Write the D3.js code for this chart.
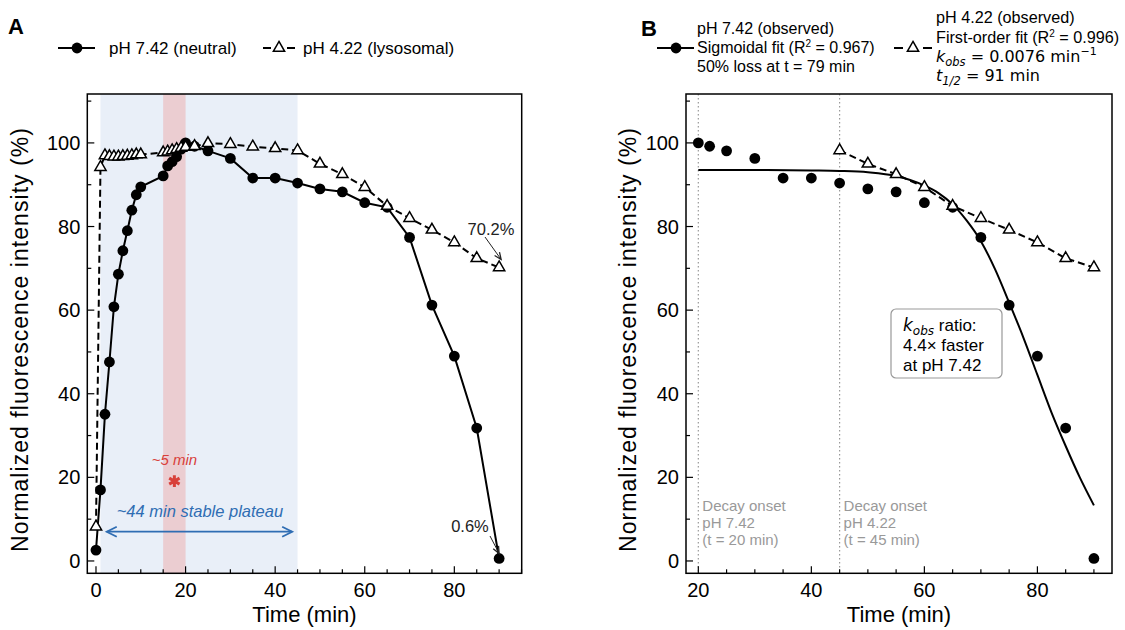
<!DOCTYPE html>
<html><head><meta charset="utf-8">
<script src="https://cdn.jsdelivr.net/npm/d3@7"></script>
<style>body{margin:0;background:#fff} svg{display:block}</style>
</head><body>
<svg id="c" width="1125" height="630"></svg>
<script>
// ---------- data ----------
const timeNeutral = [0,1,2,3,4,5,6,7,8,9,10,15,16,17,18,19,20,22,25,30,35,40,45,50,55,60,65,70,75,80,85,90];
const valNeutral  = [2.6,17.0,35.1,47.6,60.8,68.6,74.2,79.0,83.9,87.6,89.5,92.1,94.5,95.5,96.7,98.5,100,99.2,98.1,96.3,91.6,91.6,90.4,89.0,88.3,85.7,84.6,77.4,61.2,49.0,31.8,0.6];
const timeLyso = [0,1,2,3,4,5,6,7,8,9,10,15,16,17,18,19,20,22,25,30,35,40,45,50,55,60,65,70,75,80,85,90];
const valLyso  = [8.2,94.2,97.0,96.8,96.7,96.7,96.8,96.9,97.0,97.2,97.2,97.7,97.9,98.2,98.5,98.8,99.0,99.2,99.9,99.7,99.1,98.7,98.2,95.0,92.5,89.4,84.9,82.0,79.2,76.2,72.4,70.2];
// sigmoidal fit curve (pH 7.42)
const fitTime = [20,30,40,45,50,55,60,62.5,65,67.5,70,72.5,75,77.5,80,82.5,85,87.5,90];
const fitVal  = [93.5,93.5,93.4,93.3,93.0,92.1,89.8,88.0,85.3,81.4,76.5,69.8,61.8,53.5,44.5,35.5,27.5,20.0,13.3];
const xTicksA = [0,20,40,60,80];
const xTicksB = [20,40,60,80];
const yTicks = [0,20,40,60,80,100];
const plateauRange = [1,45];
const transitionRange = [15,20];
const decayOnsets = [{t:20, ph:"pH 7.42"},{t:45, ph:"pH 4.22"}];

// ---------- setup ----------
const svg = d3.select("#c");
const FONT = "'Liberation Sans', Arial, sans-serif";
const MATH = "'DejaVu Sans', sans-serif";
const frameTop = 94, frameBot = 573.3;
const yDomain = [-2.95, 111.7];

function drawAxes(g, x, y, xTicks) {
  const [x0, x1] = x.range();
  const xd = x.domain();
  for (let t = Math.ceil(xd[0]/5)*5; t <= xd[1]; t += 5) {
    const major = xTicks.includes(t);
    g.append("line").attr("x1", x(t)).attr("x2", x(t))
      .attr("y1", frameBot).attr("y2", frameBot - (major ? 7 : 4))
      .attr("stroke", "#000").attr("stroke-width", 1.2);
  }
  xTicks.forEach(t => {
    g.append("text").attr("x", x(t)).attr("y", frameBot + 24)
      .attr("text-anchor", "middle").attr("font-family", FONT).attr("font-size", 20).text(t);
  });
  for (let v = 0; v <= 110; v += 10) {
    const major = v % 20 === 0;
    g.append("line").attr("x1", x0).attr("x2", x0 + (major ? 7 : 4))
      .attr("y1", y(v)).attr("y2", y(v)).attr("stroke", "#000").attr("stroke-width", 1.2);
  }
  yTicks.forEach(v => {
    g.append("text").attr("x", x0 - 7).attr("y", y(v)).attr("dy", "0.35em")
      .attr("text-anchor", "end").attr("font-family", FONT).attr("font-size", 20).text(v);
  });
  g.append("rect").attr("x", x0).attr("y", frameTop).attr("width", x1 - x0).attr("height", frameBot - frameTop)
    .attr("fill", "none").attr("stroke", "#000").attr("stroke-width", 1.5);
  g.append("text").attr("x", (x0 + x1)/2).attr("y", 622).attr("text-anchor", "middle")
    .attr("font-family", FONT).attr("font-size", 22).text("Time (min)");
}

function yLabel(cx) {
  svg.append("text").attr("transform", `translate(${cx},340) rotate(-90)`)
    .attr("text-anchor", "middle").attr("dy", "0.35em").attr("font-family", FONT).attr("font-size", 23)
    .attr("textLength", 424).attr("lengthAdjust", "spacing")
    .text("Normalized fluorescence intensity (%)");
}

const tri = d3.symbol().type(d3.symbolTriangle).size(55);

function circles(g, x, y, ts, vs) {
  g.selectAll(null).data(ts.map((t,i)=>[t,vs[i]])).join("circle")
    .attr("cx", d=>x(d[0])).attr("cy", d=>y(d[1])).attr("r", 5.4).attr("fill", "#000");
}
function triangles(g, x, y, ts, vs) {
  g.selectAll(null).data(ts.map((t,i)=>[t,vs[i]])).join("path")
    .attr("d", tri).attr("transform", d=>`translate(${x(d[0])},${y(d[1])})`)
    .attr("fill", "#fff").attr("stroke", "#000").attr("stroke-width", 1.5);
}

function arrowHead(g, x1, y1, x2, y2, color, len, w, sw) {
  const a = Math.atan2(y2 - y1, x2 - x1);
  const p1 = [x2 - len*Math.cos(a) + w*Math.sin(a), y2 - len*Math.sin(a) - w*Math.cos(a)];
  const p2 = [x2 - len*Math.cos(a) - w*Math.sin(a), y2 - len*Math.sin(a) + w*Math.cos(a)];
  g.append("path").attr("d", `M${p1}L${x2},${y2}L${p2}`).attr("fill", "none")
    .attr("stroke", color).attr("stroke-width", sw || 1.3);
}

// ---------- Panel A ----------
{
  const x = d3.scaleLinear().domain([-1.94, 95.04]).range([87.3, 521.7]);
  const y = d3.scaleLinear().domain(yDomain).range([frameBot, frameTop]);
  const g = svg.append("g");
  g.append("rect").attr("x", x(plateauRange[0])).attr("y", frameTop)
    .attr("width", x(plateauRange[1]) - x(plateauRange[0])).attr("height", frameBot - frameTop).attr("fill", "#e9eff8");
  g.append("rect").attr("x", x(transitionRange[0])).attr("y", frameTop)
    .attr("width", x(transitionRange[1]) - x(transitionRange[0])).attr("height", frameBot - frameTop).attr("fill", "#ebcdd1");

  const line = d3.line().x(d=>x(d[0])).y(d=>y(d[1]));
  g.append("path").attr("d", line(timeLyso.map((t,i)=>[t,valLyso[i]])))
    .attr("fill", "none").attr("stroke", "#000").attr("stroke-width", 2).attr("stroke-dasharray", "7,4");
  g.append("path").attr("d", line(timeNeutral.map((t,i)=>[t,valNeutral[i]])))
    .attr("fill", "none").attr("stroke", "#000").attr("stroke-width", 2);
  circles(g, x, y, timeNeutral, valNeutral);
  triangles(g, x, y, timeLyso, valLyso);

  // annotations
  const red = "#d8403a", blue = "#2f6db3";
  g.append("path").attr("d", d3.symbol().type(d3.symbolAsterisk).size(100)())
    .attr("transform", `translate(${x(17.5)},${y(19.1)})`).attr("stroke", red).attr("stroke-width", 3).attr("fill", "none");
  g.append("text").attr("x", x(17.5)).attr("y", y(24.3)).attr("dy", "0.35em").attr("text-anchor", "middle")
    .attr("font-family", FONT).attr("font-style", "italic").attr("font-size", 15).attr("fill", red).text("~5 min");
  const ay = y(7), ax1 = x(2.4), ax2 = x(43.8);
  g.append("line").attr("x1", ax1).attr("x2", ax2).attr("y1", ay).attr("y2", ay).attr("stroke", blue).attr("stroke-width", 1.8);
  arrowHead(g, ax2, ay, ax1, ay, blue, 10, 5, 1.8);
  arrowHead(g, ax1, ay, ax2, ay, blue, 10, 5, 1.8);
  g.append("text").attr("x", x(23.2)).attr("y", y(11.9)).attr("dy", "0.35em").attr("text-anchor", "middle")
    .attr("font-family", FONT).attr("font-style", "italic").attr("font-size", 16.5).attr("fill", blue).text("~44 min stable plateau");

  const last = valLyso.length - 1;
  g.append("text").attr("x", 491).attr("y", 229).attr("dy", "0.35em").attr("text-anchor", "middle")
    .attr("font-family", FONT).attr("font-size", 16.5).attr("fill", "#222").text(valLyso[last].toFixed(1) + "%");
  g.append("line").attr("x1", 485).attr("y1", 237).attr("x2", x(90) + 2).attr("y2", y(valLyso[last]) - 8)
    .attr("stroke", "#222").attr("stroke-width", 1);
  arrowHead(g, 485, 237, x(90) + 2, y(valLyso[last]) - 8, "#222", 7, 3);
  const lastN = valNeutral.length - 1;
  g.append("text").attr("x", 470).attr("y", 526).attr("dy", "0.35em").attr("text-anchor", "middle")
    .attr("font-family", FONT).attr("font-size", 16.5).attr("fill", "#222").text(valNeutral[lastN] + "%");
  g.append("line").attr("x1", 490).attr("y1", 536).attr("x2", x(90)).attr("y2", y(valNeutral[lastN]) - 5)
    .attr("stroke", "#222").attr("stroke-width", 1);
  arrowHead(g, 490, 536, x(90), y(valNeutral[lastN]) - 5, "#222", 7, 3);

  drawAxes(g, x, y, xTicksA);
  yLabel(20);

  // legend
  svg.append("text").attr("x", 8).attr("y", 34).attr("font-family", FONT).attr("font-weight", "bold").attr("font-size", 22).text("A");
  svg.append("line").attr("x1", 58).attr("x2", 95).attr("y1", 48).attr("y2", 48).attr("stroke", "#000").attr("stroke-width", 2);
  svg.append("circle").attr("cx", 77).attr("cy", 48).attr("r", 5.4);
  svg.append("text").attr("x", 109).attr("y", 54).attr("font-family", FONT).attr("font-size", 17).text("pH 7.42 (neutral)");
  svg.append("line").attr("x1", 263).attr("x2", 271).attr("y1", 48).attr("y2", 48).attr("stroke", "#000").attr("stroke-width", 2);
  svg.append("line").attr("x1", 287).attr("x2", 295).attr("y1", 48).attr("y2", 48).attr("stroke", "#000").attr("stroke-width", 2);
  svg.append("path").attr("d", tri).attr("transform", "translate(279,48)").attr("fill", "#fff").attr("stroke", "#000").attr("stroke-width", 1.5);
  svg.append("text").attr("x", 303).attr("y", 54).attr("font-family", FONT).attr("font-size", 17).text("pH 4.22 (lysosomal)");
}

// ---------- Panel B ----------
{
  const x = d3.scaleLinear().domain([17.82, 93.2]).range([686, 1112]);
  const y = d3.scaleLinear().domain(yDomain).range([frameBot, frameTop]);
  const g = svg.append("g");
  decayOnsets.forEach(d => {
    g.append("line").attr("x1", x(d.t)).attr("x2", x(d.t)).attr("y1", frameTop).attr("y2", frameBot)
      .attr("stroke", "#999").attr("stroke-width", 1.2).attr("stroke-dasharray", "1.5,2.5");
    const tx = g.append("text").attr("x", x(d.t) + 4).attr("font-family", FONT).attr("font-size", 15).attr("fill", "#999");
    ["Decay onset", d.ph, `(t = ${d.t} min)`].forEach((s, i) => tx.append("tspan").attr("x", x(d.t) + 4).attr("y", 511 + i*17).text(s));
  });
  const line = d3.line().x(d=>x(d[0])).y(d=>y(d[1]));
  const nB = timeNeutral.map((t,i)=>[t,valNeutral[i]]).filter(d=>d[0]>=20);
  const lB = timeLyso.map((t,i)=>[t,valLyso[i]]).filter(d=>d[0]>=45);
  g.append("path").attr("d", d3.line().x(d=>x(d[0])).y(d=>y(d[1])).curve(d3.curveMonotoneX)(fitTime.map((t,i)=>[t,fitVal[i]])))
    .attr("fill", "none").attr("stroke", "#000").attr("stroke-width", 2);
  g.append("path").attr("d", line(lB)).attr("fill", "none").attr("stroke", "#000").attr("stroke-width", 2).attr("stroke-dasharray", "7,4");
  circles(g, x, y, nB.map(d=>d[0]), nB.map(d=>d[1]));
  triangles(g, x, y, lB.map(d=>d[0]), lB.map(d=>d[1]));

  // ratio box
  g.append("rect").attr("x", 891).attr("y", 309).attr("width", 111).attr("height", 69).attr("rx", 5)
    .attr("fill", "#fff").attr("stroke", "#999").attr("stroke-width", 1.2);
  const t1 = g.append("text").attr("x", 903).attr("y", 331).attr("font-family", FONT).attr("font-size", 17);
  t1.append("tspan").attr("font-family", MATH).attr("font-style", "italic").text("k");
  t1.append("tspan").attr("font-family", MATH).attr("font-style", "italic").attr("font-size", 12).attr("dy", 4).text("obs");
  t1.append("tspan").attr("dy", -4).text(" ratio:");
  g.append("text").attr("x", 903).attr("y", 351).attr("font-family", FONT).attr("font-size", 17).text("4.4× faster");
  g.append("text").attr("x", 903).attr("y", 371).attr("font-family", FONT).attr("font-size", 17).text("at pH 7.42");

  drawAxes(g, x, y, xTicksB);
  yLabel(628);

  // legend
  svg.append("text").attr("x", 641).attr("y", 36).attr("font-family", FONT).attr("font-weight", "bold").attr("font-size", 22).text("B");
  svg.append("line").attr("x1", 657).attr("x2", 694).attr("y1", 48).attr("y2", 48).attr("stroke", "#000").attr("stroke-width", 2);
  svg.append("circle").attr("cx", 676).attr("cy", 48).attr("r", 5.4);
  const L = svg.append("text").attr("font-family", FONT).attr("font-size", 16);
  L.append("tspan").attr("x", 697).attr("y", 34).text("pH 7.42 (observed)");
  const l2 = L.append("tspan").attr("x", 697).attr("y", 53);
  l2.append("tspan").text("Sigmoidal fit (R");
  l2.append("tspan").attr("font-size", 10).attr("dy", -6).text("2");
  l2.append("tspan").attr("dy", 6).text(" = 0.967)");
  L.append("tspan").attr("x", 697).attr("y", 72).text("50% loss at t = 79 min");

  svg.append("line").attr("x1", 894).attr("x2", 903).attr("y1", 48).attr("y2", 48).attr("stroke", "#000").attr("stroke-width", 2);
  svg.append("line").attr("x1", 923).attr("x2", 932).attr("y1", 48).attr("y2", 48).attr("stroke", "#000").attr("stroke-width", 2);
  svg.append("path").attr("d", tri).attr("transform", "translate(913,48)").attr("fill", "#fff").attr("stroke", "#000").attr("stroke-width", 1.5);
  const R = svg.append("text").attr("font-family", FONT).attr("font-size", 16.2);
  R.append("tspan").attr("x", 936).attr("y", 23).text("pH 4.22 (observed)");
  const r2 = R.append("tspan").attr("x", 936).attr("y", 43);
  r2.append("tspan").text("First-order fit (R");
  r2.append("tspan").attr("font-size", 10).attr("dy", -6).text("2");
  r2.append("tspan").attr("dy", 6).text(" = 0.996)");
  const m1 = svg.append("text").attr("x", 936).attr("y", 62).attr("font-family", MATH).attr("font-size", 16);
  m1.append("tspan").attr("font-style", "italic").text("k");
  m1.append("tspan").attr("font-style", "italic").attr("font-size", 11.5).attr("dy", 4).text("obs");
  m1.append("tspan").attr("dy", -4).text(" = 0.0076 min");
  m1.append("tspan").attr("font-size", 11).attr("dy", -7).text("−1");
  const m2 = svg.append("text").attr("x", 936).attr("y", 81).attr("font-family", MATH).attr("font-size", 16);
  m2.append("tspan").attr("font-style", "italic").text("t");
  m2.append("tspan").attr("font-style", "italic").attr("font-size", 11.5).attr("dy", 4).text("1/2");
  m2.append("tspan").attr("dy", -4).text(" = 91 min");
}
</script>
</body></html>
